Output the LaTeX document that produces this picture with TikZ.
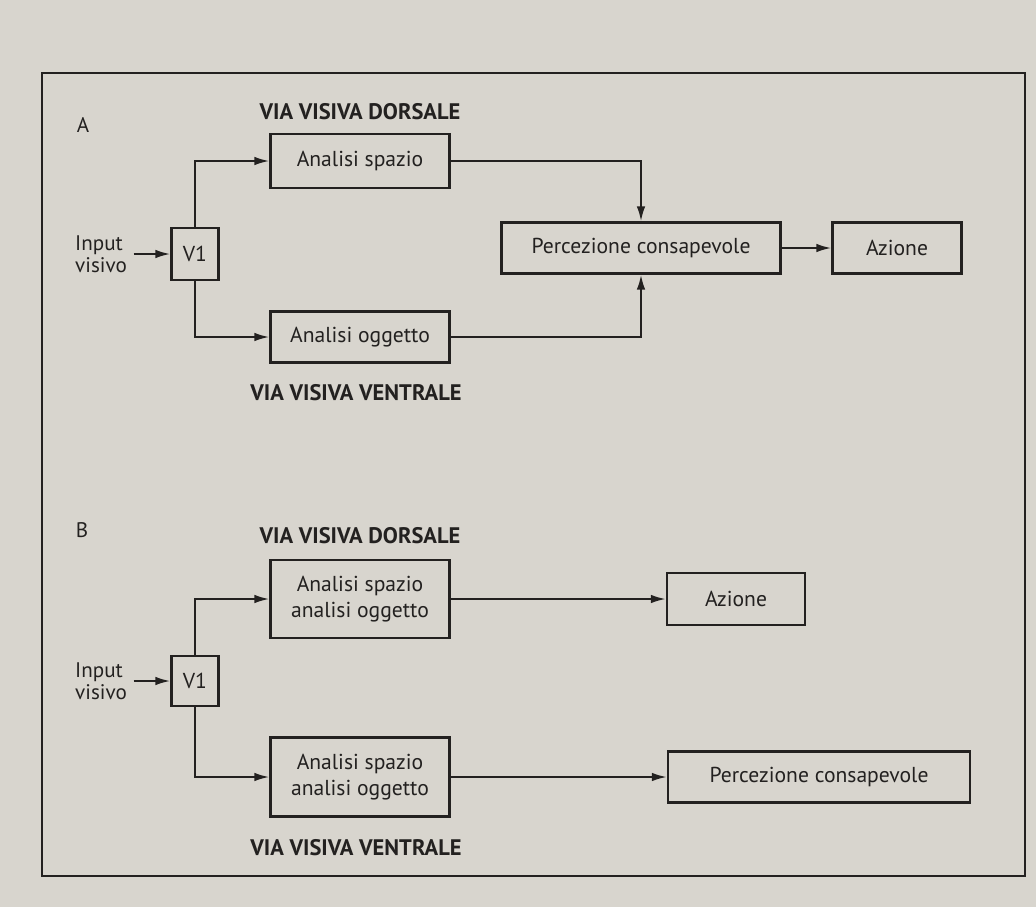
\documentclass[tikz,border=0pt]{standalone}
\usepackage{fontspec}
\setmainfont{PT Sans}
\usepackage{xcolor}
\usepackage{tikz}
\usetikzlibrary{positioning,arrows.meta}
\definecolor{paper}{RGB}{216,213,206}
\definecolor{ink}{RGB}{35,33,32}

\begin{document}
\begin{tikzpicture}[x=0.02cm,y=-0.02cm,>={Latex[length=3mm,width=1.7mm]},color=ink,line width=1.2pt,
                    main node/.style={rectangle,draw,inner sep=0pt,align=center,font=\fontsize{12.3}{14.5}\selectfont},
                    via node/.style={font=\bfseries\fontsize{12.8}{14}\selectfont},
                    input node/.style={align=left,font=\fontsize{12}{12.5}\selectfont}]

 \fill[paper] (0,0) rectangle (1036,907);
 \useasboundingbox (0,0) rectangle (1036,907);
 \draw[line width=1.4pt] (42,73) rectangle (1025,876);

 % A
 \node[font=\fontsize{12}{13}\selectfont] (labelA) at (83,125) {A};
 \node[via node] (dorsA) at (360,112) {VIA VISIVA DORSALE};
 \node[via node] (ventA) at (356,393) {VIA VISIVA VENTRALE};

 \node[input node] (in1) at (101,254) {Input\\visivo};
 \node[main node,minimum width=0.94cm,minimum height=1.04cm] (v1a) at (195,254) {V1};
 \node[main node,minimum width=3.58cm,minimum height=1.08cm] (sa) at (360,161) {Analisi spazio};
 \node[main node,minimum width=3.58cm,minimum height=1.02cm] (oa) at (360,337) {Analisi oggetto};
 \node[main node,minimum width=5.58cm,minimum height=1.02cm] (pca) at (641,248) {Percezione consapevole};
 \node[main node,minimum width=2.58cm,minimum height=1.02cm] (aza) at (897,248) {Azione};

 \draw[->] (in1) -- (v1a);
 \draw[->] (v1a.north) |- (sa.west);
 \draw[->] (v1a.south) |- (oa.west);
 \draw[->] (sa.east) -| (pca.north);
 \draw[->] (oa.east) -| (pca.south);
 \draw[->] (pca) -- (aza);

 % B
 \node[font=\fontsize{12}{13}\selectfont] (labelB) at (82,530) {B};
 \node[via node] (dorsB) at (360,536) {VIA VISIVA DORSALE};
 \node[via node] (ventB) at (356,848) {VIA VISIVA VENTRALE};

 \node[input node] (in2) at (101,681) {Input\\visivo};
 \node[main node,minimum width=0.94cm,minimum height=1.0cm] (v1b) at (195,681) {V1};
 \node[main node,minimum width=3.58cm,minimum height=1.56cm] (sb1) at (360,599) {Analisi spazio\\analisi oggetto};
 \node[main node,minimum width=3.58cm,minimum height=1.58cm] (sb2) at (360,777) {Analisi spazio\\analisi oggetto};
 \node[main node,minimum width=2.76cm,minimum height=1.04cm] (azb) at (736,599) {Azione};
 \node[main node,minimum width=6.04cm,minimum height=1.02cm] (pcb) at (819,777) {Percezione consapevole};

 \draw[->] (in2) -- (v1b);
 \draw[->] (v1b.north) |- (sb1.west);
 \draw[->] (v1b.south) |- (sb2.west);
 \draw[->] (sb1) -- (azb);
 \draw[->] (sb2) -- (pcb);

\end{tikzpicture}
\end{document}
